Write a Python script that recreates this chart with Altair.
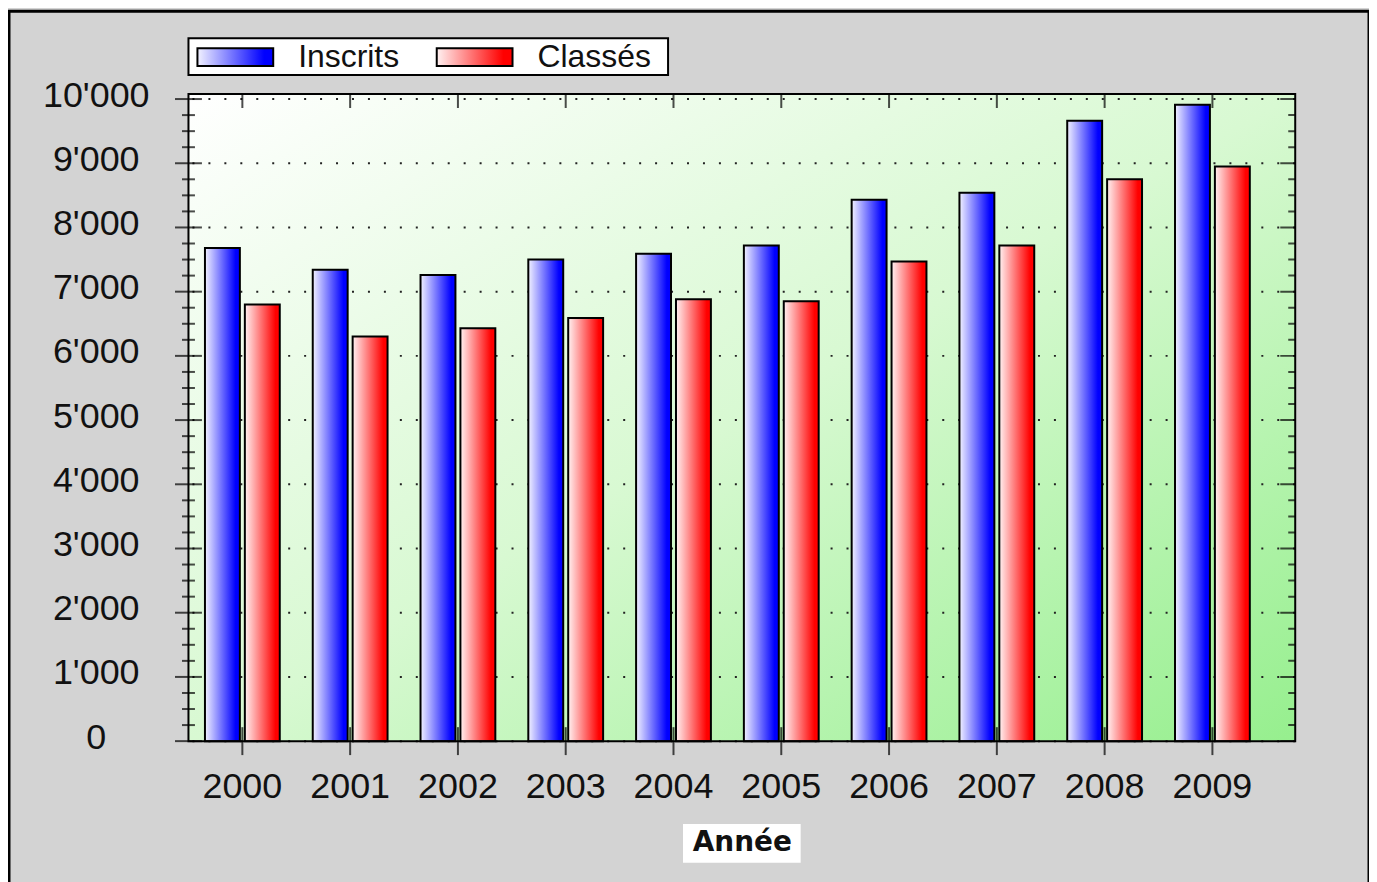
import altair as alt
import pandas as pd

# ---------------- data ----------------
years = ["2000", "2001", "2002", "2003", "2004", "2005", "2006", "2007", "2008", "2009"]
inscrits = [7680, 7340, 7260, 7500, 7590, 7720, 8430, 8540, 9660, 9910]
classes = [6800, 6300, 6430, 6590, 6880, 6850, 7470, 7720, 8750, 8950]
series = ["Inscrits", "Classés"]
y_major = [0, 1000, 2000, 3000, 4000, 5000, 6000, 7000, 8000, 9000, 10000]
y_minor = [250, 500, 750, 1250, 1500, 1750, 2250, 2500, 2750, 3250, 3500, 3750,
           4250, 4500, 4750, 5250, 5500, 5750, 6250, 6500, 6750, 7250, 7500, 7750,
           8250, 8500, 8750, 9250, 9500, 9750]
x_title = "Année"

# ---------------- layout / style ----------------
W, H = 1110, 649
FONT = "Liberation Sans"
TXT = "#111111"

df = pd.DataFrame({
    "Année": years * 2,
    "Série": [series[0]] * len(years) + [series[1]] * len(years),
    "Valeur": inscrits + classes,
})
df_years = pd.DataFrame({"Année": years})
df_major = pd.DataFrame({"v": y_major})
df_minor = pd.DataFrame({"v": y_minor})
one = pd.DataFrame({"k": [0]})

blue_grad = ("{gradient: 'linear', x1: 0, y1: 0, x2: 1, y2: 0, stops: ["
             "{offset: 0, color: '#f2f2ff'}, {offset: 0.88, color: '#0000ff'}, {offset: 1, color: '#0000ff'}]}")
red_grad = ("{gradient: 'linear', x1: 0, y1: 0, x2: 1, y2: 0, stops: ["
            "{offset: 0, color: '#fff2f2'}, {offset: 0.88, color: '#ff0000'}, {offset: 1, color: '#ff0000'}]}")
plot_grad = alt.LinearGradient(
    gradient="linear", x1=0, y1=0, x2=1, y2=1,
    stops=[alt.GradientStop(offset=0, color="#ffffff"),
           alt.GradientStop(offset=0.5, color="#d8f9d2"),
           alt.GradientStop(offset=1, color="#96ef8e")],
)

yscale = alt.Scale(domain=[0, 10078], nice=False, zero=True)
xscale = alt.Scale(domain=years, range=[0, 1081], paddingInner=0.306, paddingOuter=0.153)

xaxis = alt.Axis(
    orient="bottom", domain=False, ticks=True, tickSize=0, tickOpacity=0,
    labelAngle=0, labelFont=FONT, labelFontSize=36, labelColor=TXT,
    labelPadding=46, labelBaseline="middle",
    title=x_title, titleFont="DejaVu Sans", titleFontWeight="bold",
    titleFontSize=28, titleColor=TXT, titleX=555, titleY=102, titleAlign="center",
    titleBaseline="middle", grid=False, zindex=1,
)
yaxis = alt.Axis(
    values=y_major, domain=False, ticks=True, tickSize=0, tickOpacity=0,
    labelExpr="replace(format(datum.value, ',d'), ',', \"'\")",
    labelFont=FONT, labelFontSize=36, labelColor=TXT, labelAlign="center",
    labelPadding=93, labelBaseline="middle", labelOffset=-4,
    grid=False, title=None, zindex=0,
)

X = alt.X("Année:N", scale=xscale, axis=xaxis, sort=years)

# plot background gradient and dotted grid
plot_bg = alt.Chart(one).mark_rect(fill=plot_grad).encode(
    x=alt.value(0), x2=alt.value(W), y=alt.value(0), y2=alt.value(H))
grid = alt.Chart(df_major).mark_rule(color="#222222", strokeWidth=2, strokeDash=[2, 14]).encode(
    y=alt.Y("v:Q", scale=yscale))

bars = alt.Chart(df).mark_bar(stroke="black", strokeWidth=2).encode(
    x=X,
    xOffset=alt.XOffset("Série:N", scale=alt.Scale(domain=series, paddingInner=0.125, paddingOuter=0)),
    y=alt.Y("Valeur:Q", scale=yscale, axis=yaxis),
    color=alt.Color(
        "Série:N",
        scale=alt.Scale(domain=series, range=[{"expr": blue_grad}, {"expr": red_grad}]),
        legend=alt.Legend(
            orient="none", legendX=8, legendY=-76, direction="horizontal", title=None,
            symbolType="M-1,-0.237H1V0.237H-1Z", symbolSize=5776,
            symbolStrokeColor="black", symbolStrokeWidth=2,
            labelFont=FONT, labelFontSize=32, labelColor=TXT, labelOffset=24,
            columnPadding=33, padding=0, labelLimit=300,
        ),
    ),
)

# axis ticks drawn as tick marks (crossing the frame like the original)
left_major = alt.Chart(df_major).mark_tick(orient="horizontal", color="black", thickness=2, size=27).encode(
    x=alt.value(0), y=alt.Y("v:Q", scale=yscale))
left_minor = alt.Chart(df_minor).mark_tick(orient="horizontal", color="black", thickness=2, size=13).encode(
    x=alt.value(0), y=alt.Y("v:Q", scale=yscale))
right_major = alt.Chart(df_major).mark_tick(orient="horizontal", color="black", thickness=2, size=30, clip=True).encode(
    x=alt.value(W), y=alt.Y("v:Q", scale=yscale))
right_minor = alt.Chart(df_minor).mark_tick(orient="horizontal", color="black", thickness=2, size=14, clip=True).encode(
    x=alt.value(W), y=alt.Y("v:Q", scale=yscale))
top_ticks = alt.Chart(df_years).mark_tick(orient="vertical", color="black", thickness=2, size=28, clip=True).encode(
    x=X, y=alt.value(0))
bottom_ticks = alt.Chart(df_years).mark_tick(orient="vertical", color="black", thickness=2, size=28).encode(
    x=X, y=alt.value(H))

# decorations: outer frame, legend box, axis-title background, plot frame
outer_frame = alt.Chart(one).mark_rect(fill=None, stroke="black", strokeWidth=3).encode(
    x=alt.value(-180), x2=alt.value(1184), y=alt.value(-83), y2=alt.value(820))
legend_box = alt.Chart(one).mark_rect(fill="white", stroke="black", strokeWidth=2).encode(
    x=alt.value(0), x2=alt.value(481), y=alt.value(-56), y2=alt.value(-19))
title_box = alt.Chart(one).mark_rect(fill="white").encode(
    x=alt.value(496), x2=alt.value(614), y=alt.value(732), y2=alt.value(771))
plot_frame = alt.Chart(one).mark_rect(fill=None, stroke="black", strokeWidth=2).encode(
    x=alt.value(0), x2=alt.value(W), y=alt.value(0), y2=alt.value(H))

chart = alt.layer(
    outer_frame, legend_box, title_box, plot_bg, grid, bars,
    left_major, left_minor, right_major, right_minor, top_ticks, bottom_ticks, plot_frame,
).properties(
    width=W, height=H,
    autosize=alt.AutoSizeParams(type="none"),
    padding={"left": 181, "top": 85, "right": 74, "bottom": 140},
    background="#d3d3d3",
).configure_view(
    stroke=None,
)

chart.save("out.html", embed_options={"renderer": "svg", "actions": False})
